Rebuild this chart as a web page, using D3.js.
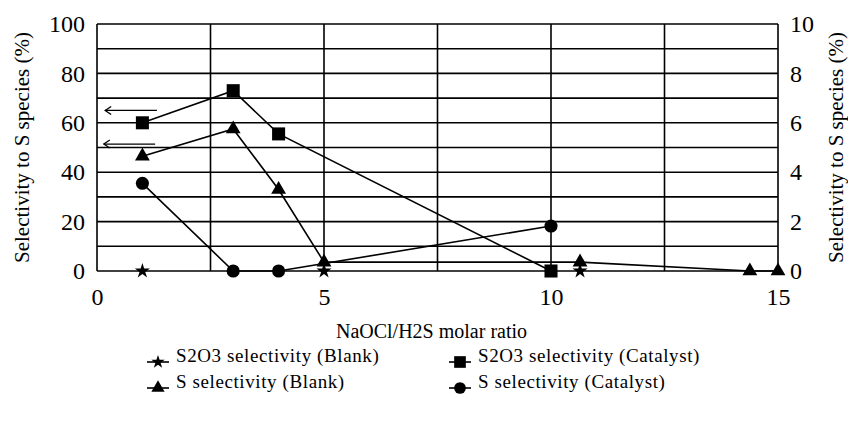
<!DOCTYPE html>
<html>
  <head>
    <meta http-equiv="Content-Type" content="text/html;charset=utf-8"/>
    <script src="https://d3js.org/d3.v7.min.js"></script>
  </head>
  <body style="margin:0; background:#fff">
    <script type="text/javascript">

// data
var xTicks = [0, 5, 10, 15];
var yTicks = [0, 20, 40, 60, 80, 100];
var y2Ticks = [0, 2, 4, 6, 8, 10];

var s2o3BlankX = [1, 5, 10.64];
var s2o3BlankY = [0, 0, 0];
var s2o3CatX = [1, 3, 4, 10];
var s2o3CatY = [60, 73, 55.5, 0];
var sBlankX = [1, 3, 4, 5, 10.64, 14.38, 15];
var sBlankY = [46.5, 57.5, 33, 3.6, 3.6, 0, 0];
var sCatX = [1, 3, 4, 10];
var sCatY = [35.5, 0, 0, 18.2];

var series = [
  {name: "S2O3 selectivity (Blank)", xs: s2o3BlankX, ys: s2o3BlankY, sym: d3.symbolStar, size: 70, line: false},
  {name: "S2O3 selectivity (Catalyst)", xs: s2o3CatX, ys: s2o3CatY, sym: d3.symbolSquare, size: 170, line: true},
  {name: "S selectivity (Blank)", xs: sBlankX, ys: sBlankY, sym: d3.symbolTriangle, size: 95, line: true},
  {name: "S selectivity (Catalyst)", xs: sCatX, ys: sCatY, sym: d3.symbolCircle, size: 135, line: true}
];

var serif = "Liberation Serif";

var w = 848, h = 426;
var svg = d3.select("body").append("svg")
  .attr("width", w)
  .attr("height", h);

var x = d3.scaleLinear().domain([0, 15]).range([97, 778]);
var y = d3.scaleLinear().domain([0, 100]).range([271, 24]);
var y2 = d3.scaleLinear().domain([0, 10]).range([271, 24]);

// grid
var grid = svg.append("g").attr("stroke", "#000").attr("stroke-width", 1.6);
grid.selectAll("line.h").data(d3.range(0, 101, 10)).enter().append("line")
  .attr("x1", x(0)).attr("x2", x(15))
  .attr("y1", function(d) { return y(d); }).attr("y2", function(d) { return y(d); });
grid.selectAll("line.v").data(d3.range(0, 15.1, 2.5)).enter().append("line")
  .attr("y1", y(0)).attr("y2", y(100))
  .attr("x1", function(d) { return x(d); }).attr("x2", function(d) { return x(d); });

// axes, labels only
var axL = svg.append("g").attr("transform", "translate(" + x(0) + ",0)")
  .call(d3.axisLeft(y).tickValues(yTicks).tickSize(0).tickPadding(12));
var axR = svg.append("g").attr("transform", "translate(" + x(15) + ",0)")
  .call(d3.axisRight(y2).tickValues(y2Ticks).tickSize(0).tickPadding(12));
var axB = svg.append("g").attr("transform", "translate(0," + y(0) + ")")
  .call(d3.axisBottom(x).tickValues(xTicks).tickSize(0).tickPadding(17));
[axL, axR, axB].forEach(function(a) {
  a.select(".domain").remove();
  a.selectAll("text")
    .attr("font-family", serif).attr("font-size", 24).attr("fill", "#000");
});

function label(tr, str, size) {
  return svg.append("text")
    .attr("transform", tr)
    .attr("text-anchor", "middle").attr("dy", "0.35em")
    .attr("font-family", serif).attr("font-size", size)
    .text(str);
}
label("translate(22," + y(50) + ")rotate(-90)", "Selectivity to S species (%)", 21);
label("translate(836," + y(50) + ")rotate(-90)", "Selectivity to S species (%)", 21);
label("translate(" + (x(7.5) - 6) + ",331)", "NaOCl/H2S molar ratio", 20);

// arrows pointing to the left axis
var arrows = [{from: 1.32, to: 0.18, v: 65}, {from: 1.28, to: 0.15, v: 51.4}];
arrows.forEach(function(a) {
  svg.append("line")
    .attr("x1", x(a.from)).attr("x2", x(a.to))
    .attr("y1", y(a.v)).attr("y2", y(a.v))
    .attr("stroke", "#000").attr("stroke-width", 1.3);
  svg.append("path")
    .attr("d", "M" + (x(a.to) + 6) + "," + (y(a.v) - 4) + "L" + x(a.to) + "," + y(a.v) + "L" + (x(a.to) + 6) + "," + (y(a.v) + 4))
    .attr("fill", "none").attr("stroke", "#000").attr("stroke-width", 1.3);
});

// series
var lineGen = d3.line().x(function(d) { return x(d[0]); }).y(function(d) { return y(d[1]); });
series.forEach(function(s) {
  var pts = d3.zip(s.xs, s.ys);
  if (s.line) {
    svg.append("path").attr("d", lineGen(pts))
      .attr("fill", "none").attr("stroke", "#000").attr("stroke-width", 1.6);
  }
  svg.selectAll(null).data(pts).enter().append("path")
    .attr("transform", function(d) { return "translate(" + x(d[0]) + "," + y(d[1]) + ")"; })
    .attr("d", d3.symbol().type(s.sym).size(s.size))
    .attr("fill", "#000");
});

// legend
var legX = [158, 460], legY = [355, 381];
series.forEach(function(s, i) {
  var lx = legX[i % 2], ly = legY[Math.floor(i / 2)];
  var g = svg.append("g").attr("transform", "translate(" + lx + "," + (ly + 7) + ")");
  g.append("line").attr("x1", -11).attr("x2", 11).attr("stroke", "#000").attr("stroke-width", 1.6);
  g.append("path").attr("d", d3.symbol().type(s.sym).size(s.size * 0.8)).attr("fill", "#000");
  svg.append("text")
    .attr("x", lx + 18).attr("y", ly).attr("dy", "0.35em")
    .attr("font-family", serif).attr("font-size", 19).attr("letter-spacing", 0.6)
    .text(s.name);
});
    </script>
  </body>
</html>
